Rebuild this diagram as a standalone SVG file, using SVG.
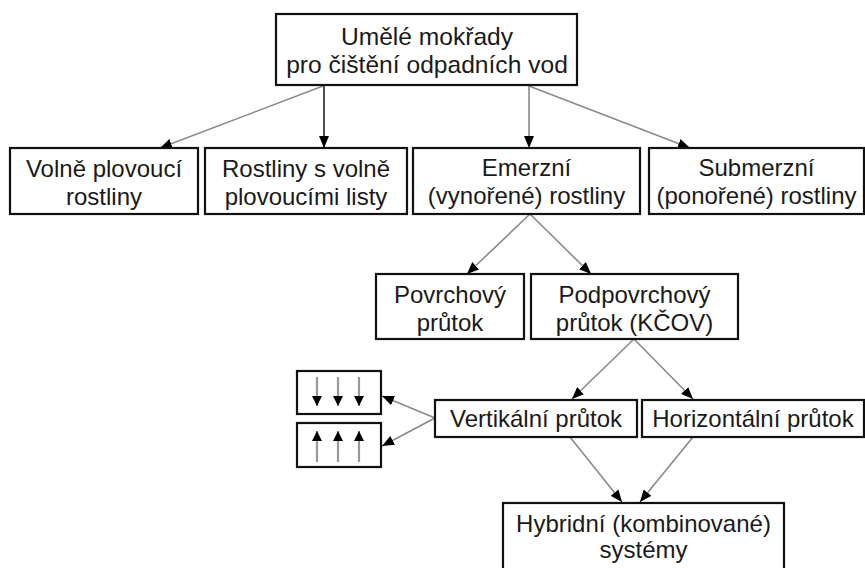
<svg xmlns="http://www.w3.org/2000/svg" width="865" height="568" viewBox="0 0 865 568">
<defs>
<marker id="ah" markerUnits="userSpaceOnUse" markerWidth="12" markerHeight="10" viewBox="0 0 12 10" refX="12" refY="5" orient="auto">
<path d="M0,0 L12,5 L0,10 z" fill="#000"/>
</marker>
<marker id="sh" markerUnits="userSpaceOnUse" markerWidth="10" markerHeight="10" viewBox="0 0 10 10" refX="10" refY="5" orient="auto">
<path d="M0,0 L10,5 L0,10 z" fill="#000"/>
</marker>
</defs>
<style>
.box{fill:#fff;stroke:#111;stroke-width:2.2}
.t{font-family:"Liberation Sans",Arial,sans-serif;font-size:24px;fill:#1a1a1a;text-anchor:middle}
.tl{font-size:24.6px}
.c{fill:none;stroke:#8a8a8a;stroke-width:1.6;marker-end:url(#ah)}
.cd{fill:none;stroke:#222;stroke-width:1.6;marker-end:url(#ah)}
.s{fill:none;stroke:#999;stroke-width:2.2;marker-end:url(#sh)}
</style>
<rect width="865" height="568" fill="#fff"/>
<g id="connectors">
<line class="c" x1="323" y1="86" x2="160" y2="148"/>
<line class="cd" x1="324" y1="86" x2="324" y2="148"/>
<line class="c" x1="529" y1="86" x2="529" y2="148"/>
<line class="c" x1="529" y1="86" x2="690" y2="148"/>
<line class="c" x1="530" y1="214" x2="467" y2="274"/>
<line class="c" x1="530" y1="214" x2="591" y2="274"/>
<line class="c" x1="634" y1="339" x2="572" y2="399"/>
<line class="c" x1="634" y1="339" x2="693" y2="399"/>
<line class="c" x1="435" y1="418" x2="382" y2="396"/>
<line class="c" x1="435" y1="418" x2="382" y2="446"/>
<line class="c" x1="570" y1="437" x2="622" y2="502"/>
<line class="c" x1="693" y1="437" x2="640" y2="502"/>
</g>
<g id="n-root">
<rect class="box" x="276" y="14" width="301" height="71"/>
<text class="t tl" x="427" y="45">Umělé mokřady</text>
<text class="t tl" x="427" y="73">pro čištění odpadních vod</text>
</g>
<g id="n-volne">
<rect class="box" x="10" y="148" width="188" height="66"/>
<text class="t" x="104" y="177">Volně plovoucí</text>
<text class="t" x="104" y="205">rostliny</text>
</g>
<g id="n-listy">
<rect class="box" x="205" y="148" width="202" height="66"/>
<text class="t" x="306" y="177">Rostliny s volně</text>
<text class="t" x="306" y="205">plovoucími listy</text>
</g>
<g id="n-emerzni">
<rect class="box" x="413" y="148" width="227" height="66"/>
<text class="t" x="526.5" y="176">Emerzní</text>
<text class="t" x="526.5" y="204">(vynořené) rostliny</text>
</g>
<g id="n-submerzni">
<rect class="box" x="649" y="148" width="215" height="66"/>
<text class="t" x="756.5" y="176">Submerzní</text>
<text class="t" x="756.5" y="204">(ponořené) rostliny</text>
</g>
<g id="n-povrchovy">
<rect class="box" x="376" y="274" width="148" height="65"/>
<text class="t" x="450" y="303">Povrchový</text>
<text class="t" x="450" y="331">průtok</text>
</g>
<g id="n-podpovrchovy">
<rect class="box" x="531" y="274" width="207" height="65"/>
<text class="t" x="634.5" y="303">Podpovrchový</text>
<text class="t" x="634.5" y="331">průtok (KČOV)</text>
</g>
<g id="n-vertikalni">
<rect class="box" x="435" y="400" width="202" height="37"/>
<text class="t" x="536" y="427">Vertikální průtok</text>
</g>
<g id="n-horizontalni">
<rect class="box" x="642" y="400" width="222" height="37"/>
<text class="t" x="753" y="427">Horizontální průtok</text>
</g>
<g id="n-down">
<rect class="box" x="297" y="371" width="84" height="43"/>
<line class="s" x1="317" y1="377" x2="317" y2="406"/>
<line class="s" x1="338" y1="377" x2="338" y2="406"/>
<line class="s" x1="359" y1="377" x2="359" y2="406"/>
</g>
<g id="n-up">
<rect class="box" x="297" y="423" width="84" height="44"/>
<line class="s" x1="317" y1="462" x2="317" y2="431"/>
<line class="s" x1="338" y1="462" x2="338" y2="431"/>
<line class="s" x1="359" y1="462" x2="359" y2="431"/>
</g>
<g id="n-hybridni">
<rect class="box" x="503" y="503" width="281" height="70"/>
<text class="t" x="643.5" y="532">Hybridní (kombinované)</text>
<text class="t" x="643.5" y="558">systémy</text>
</g>
</svg>
